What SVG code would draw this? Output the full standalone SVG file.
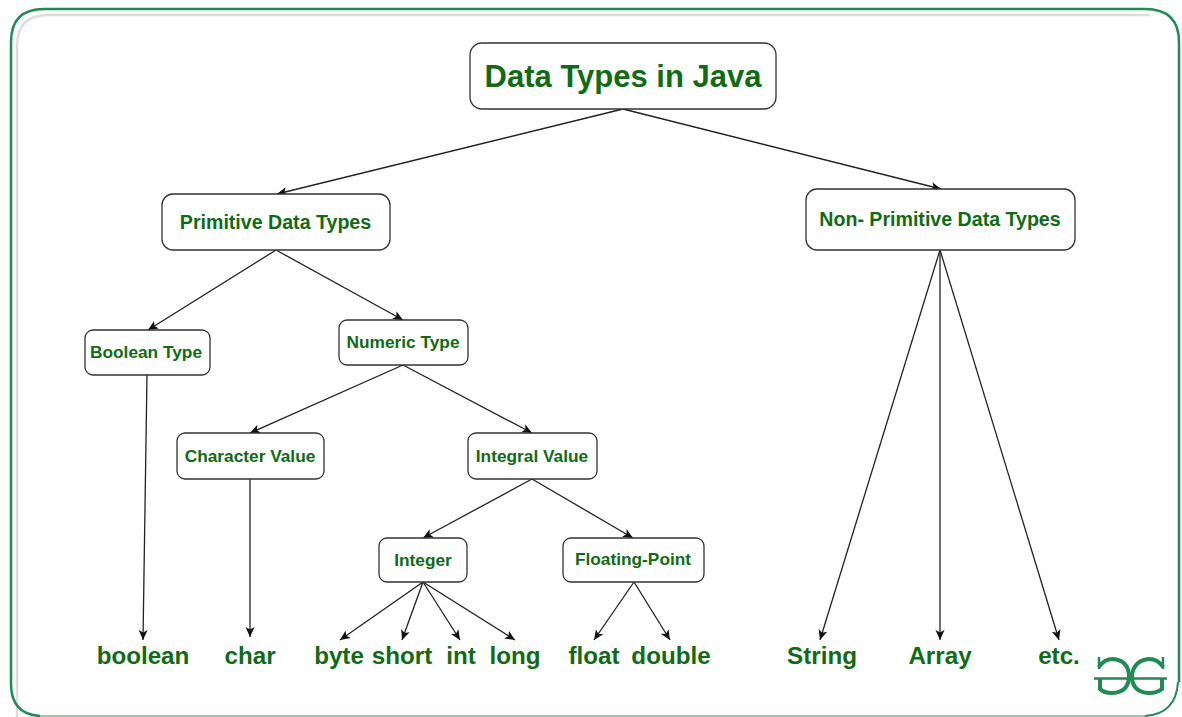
<svg xmlns="http://www.w3.org/2000/svg" width="1182" height="717" viewBox="0 0 1182 717">
<style>
.n{fill:#fff;stroke:#333;stroke-width:1.3}
.t{font-family:"Liberation Sans",Arial,sans-serif;font-weight:700;fill:#0f6b14;text-anchor:middle}
.s{font-size:17.300px}
.l{font-size:24.200px}
.c line{stroke:#222;stroke-width:1.300;marker-end:url(#a)}
</style>
<defs><marker id="a" markerUnits="userSpaceOnUse" markerWidth="11" markerHeight="10" refX="10" refY="5" orient="auto"><path d="M0 0.500L10 5L0 9.500L2.500 5Z" fill="#111"/></marker></defs>
<rect width="1182" height="717" fill="#fff"/>
<path d="M17 717V46Q17 15 48 15H1150" fill="none" stroke="#ddd" stroke-width="2.500"/>
<path d="M40 716H1145" fill="none" stroke="#8fcfae" stroke-width="2"/>
<path d="M1145 716Q1176 714 1178 682" fill="none" stroke="#218a55" stroke-width="2"/>
<path d="M40 716Q11 714 11 684V42Q11 9 44 9H1145Q1179 9 1179 42V682" fill="none" stroke="#218a55" stroke-width="2.500"/>
<g class="c" id="connectors">
<line x1="623" y1="109" x2="277" y2="194"/><line x1="623" y1="109" x2="941" y2="189"/>
<line x1="276" y1="250" x2="148" y2="330"/><line x1="276" y1="250" x2="403" y2="320"/>
<line x1="147" y1="375" x2="143" y2="640"/>
<line x1="403" y1="365" x2="250" y2="433"/><line x1="403" y1="365" x2="532" y2="433"/>
<line x1="250" y1="479" x2="250" y2="637"/>
<line x1="532" y1="479" x2="423" y2="538"/><line x1="532" y1="479" x2="633" y2="538"/>
<line x1="423" y1="582" x2="340" y2="640"/><line x1="423" y1="582" x2="402" y2="640"/><line x1="423" y1="582" x2="460" y2="640"/><line x1="423" y1="582" x2="515" y2="640"/>
<line x1="634" y1="582" x2="594" y2="640"/><line x1="634" y1="582" x2="670" y2="640"/>
<line x1="940" y1="250" x2="820" y2="640"/><line x1="940" y1="250" x2="940" y2="640"/><line x1="940" y1="250" x2="1059" y2="640"/>
</g>
<g id="root"><rect class="n" x="470" y="43" width="306" height="66" rx="12"/><text class="t" x="623" y="87" font-size="31">Data Types in Java</text></g>
<g id="primitive"><rect class="n" x="162" y="194" width="228" height="56" rx="11"/><text class="t" x="275.500" y="228.500" font-size="19.600">Primitive Data Types</text></g>
<g id="nonprimitive"><rect class="n" x="806" y="189" width="269" height="61" rx="11"/><text class="t" x="940" y="225.500" font-size="19.600">Non- Primitive Data Types</text></g>
<g id="boolean-type"><rect class="n" x="85" y="330" width="125" height="45" rx="8"/><text class="t s" x="146" y="357.500">Boolean Type</text></g>
<g id="numeric"><rect class="n" x="339" y="320" width="129" height="45" rx="8"/><text class="t s" x="403" y="347.500">Numeric Type</text></g>
<g id="character"><rect class="n" x="177" y="433" width="147" height="46" rx="8"/><text class="t s" x="250" y="461.500">Character Value</text></g>
<g id="integral"><rect class="n" x="468" y="433" width="129" height="46" rx="8"/><text class="t s" x="532" y="461.500">Integral Value</text></g>
<g id="integer"><rect class="n" x="379" y="538" width="88" height="44" rx="8"/><text class="t s" x="423" y="565.500">Integer</text></g>
<g id="floating"><rect class="n" x="563" y="538" width="141" height="44" rx="8"/><text class="t s" x="633" y="565">Floating-Point</text></g>
<g id="leaves">
<text class="t l" x="143" y="664">boolean</text><text class="t l" x="250" y="664">char</text><text class="t l" x="339" y="664">byte</text><text class="t l" x="402" y="664">short</text><text class="t l" x="461" y="664">int</text><text class="t l" x="515" y="664">long</text><text class="t l" x="594" y="664">float</text><text class="t l" x="671" y="664">double</text><text class="t l" x="822" y="664">String</text><text class="t l" x="940" y="664">Array</text><text class="t l" x="1059" y="664">etc.</text>
</g>
<g id="logo" fill="none" stroke="#218a55">
<path d="M1094 678.500H1167" stroke-width="2.500"/>
<path d="M1099 657V669" stroke-width="2.500"/>
<path d="M1099 667Q1104 659 1113 659Q1127 660 1129 674Q1130 692 1112 693Q1104 693 1100 689V679" stroke-width="4"/>
<path d="M1163 657V669" stroke-width="2.500"/>
<path d="M1163 667Q1158 659 1149 659Q1135 660 1132 674Q1131 692 1149 693Q1157 693 1162 689V679" stroke-width="4"/>
</g>
</svg>
